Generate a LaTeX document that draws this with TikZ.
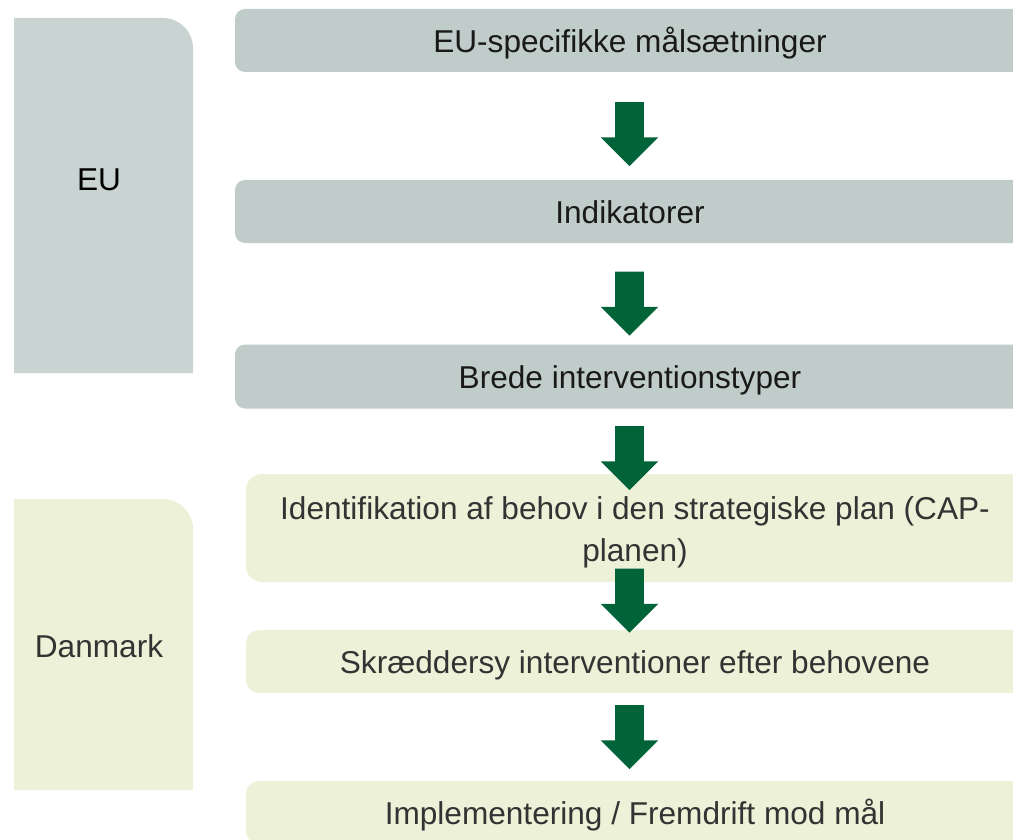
\documentclass[tikz,border=0pt]{standalone}
\usepackage{fontspec}
\setmainfont{Liberation Sans}
\usepackage{tikz}
\usetikzlibrary{positioning,shapes.arrows}
\definecolor{panelgray}{HTML}{C9D4D2}
\definecolor{boxgray}{HTML}{BFCCC9}
\definecolor{palegreen}{HTML}{EDF1D7}
\definecolor{arrowgreen}{HTML}{006438}
\definecolor{textgray}{HTML}{333333}

\begin{document}
\begin{tikzpicture}[x=0.5pt,y=-0.5pt,font=\fontsize{15.8}{21}\selectfont,every node/.style={inner sep=0pt,outer sep=0pt},
	graybox/.style={fill=boxgray,text=black!90,rounded corners=5pt,minimum width=395pt,minimum height=31.5pt,text height=1.2em,text depth=0pt},
	greenbox/.style={fill=palegreen,text=textgray,rounded corners=6.5pt,minimum width=389pt,minimum height=31.5pt,text height=1.2em,text depth=0pt},
	downarrow/.style={single arrow,fill=arrowgreen,rotate=-90,inner xsep=0pt,inner ysep=7pt,minimum height=32pt,minimum width=28.5pt,single arrow head extend=7.25pt,single arrow tip angle=90,single arrow head indent=0pt}]
	\useasboundingbox (0,0) rectangle (1013,840);
	\clip (0,0) rectangle (1013,840);

	% side panels
	\fill[panelgray] (14,373) -- (14,18) [rounded corners=15pt] -- (193,18) [sharp corners] -- (193,373) -- cycle;
	\fill[palegreen] (14,790) -- (14,499) [rounded corners=15pt] -- (193,499) [sharp corners] -- (193,790) -- cycle;
	\node (eu) at (99,180) {EU};
	\node[text=textgray] (dk) at (99,646) {Danmark};

	% steps
	\node[graybox] (maal) at (630,40.5) {EU-specifikke målsætninger};
	\node[graybox] (indik) at (630,211.5) {Indikatorer};
	\node[graybox,minimum height=32pt] (brede) at (630,376.5) {Brede interventionstyper};
	\node[greenbox,align=center,minimum height=54pt,rounded corners=8pt,text height=33.4pt] (behov) at (635,528) {Identifikation af behov i den strategiske plan (CAP-\\planen)};
	\node[greenbox] (skraed) at (635,661.5) {Skræddersy interventioner efter behovene};
	\node[greenbox] (impl) at (635,812.5) {Implementering / Fremdrift mod mål};

	% arrows
	\node[downarrow] (a1) at (629.5,127) {};
	\node[downarrow] (a2) at (629.5,296.5) {};
	\node[downarrow] (a3) at (629.5,451) {};
	\node[downarrow] (a4) at (629.5,593.5) {};
	\node[downarrow] (a5) at (629.5,730) {};
\end{tikzpicture}
\end{document}
